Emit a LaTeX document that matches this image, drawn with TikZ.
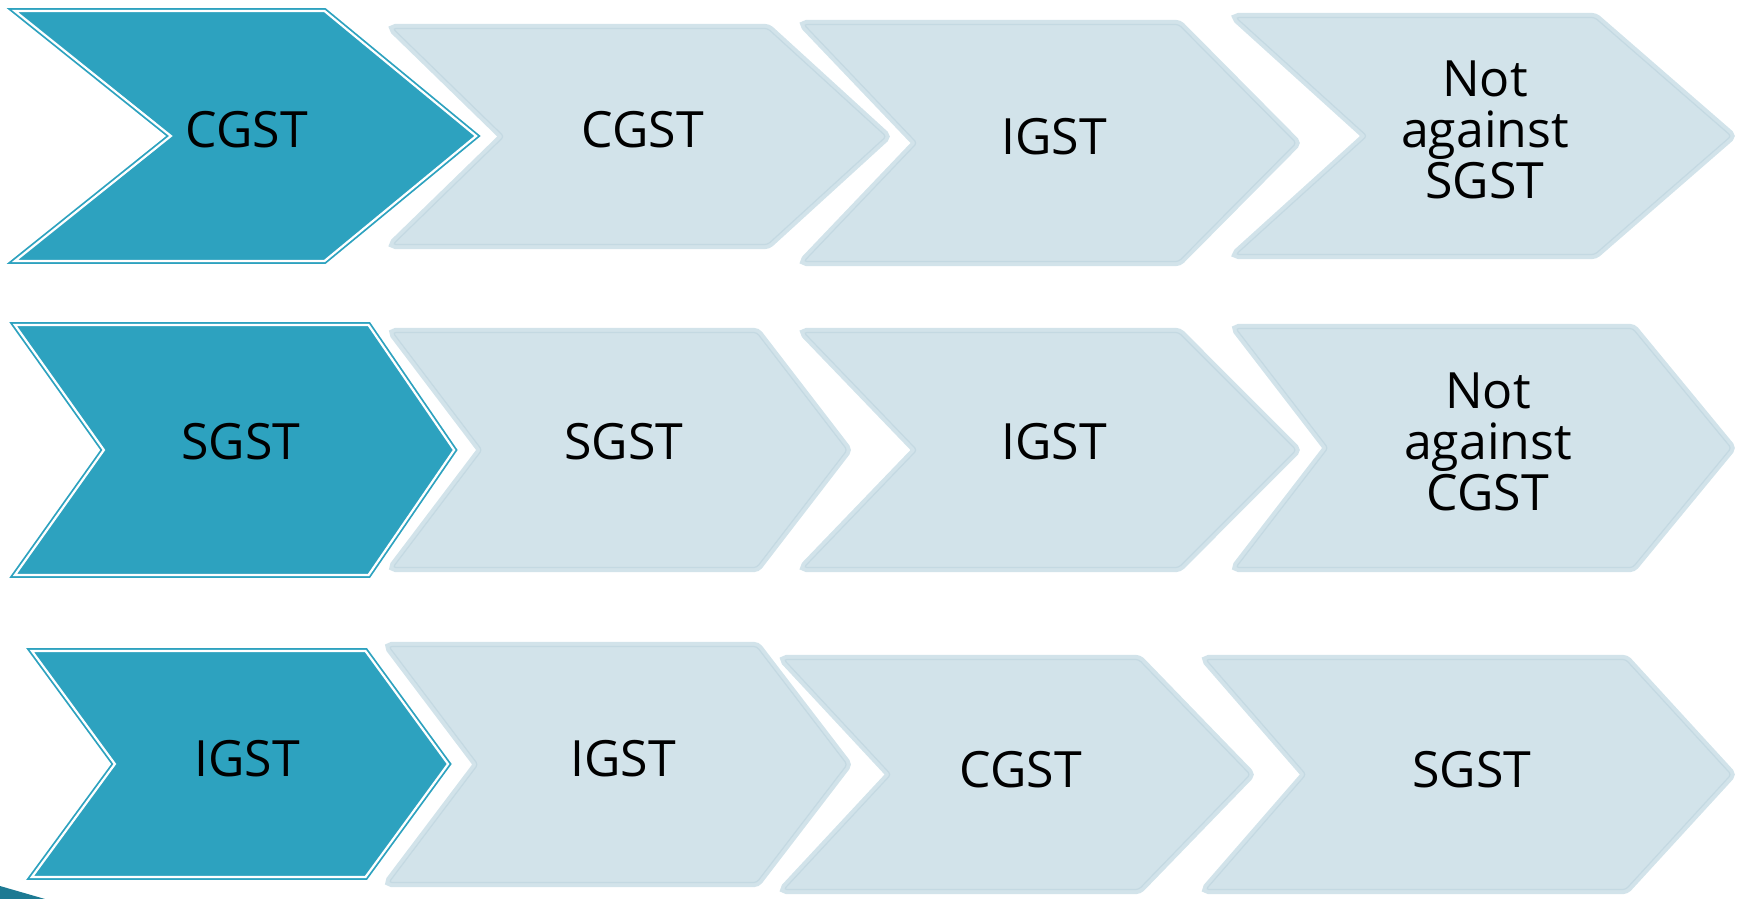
\documentclass[tikz,border=0pt]{standalone}
\usepackage{fontspec}
\setmainfont{Open Sans}

\definecolor{chevdark}{HTML}{2DA2BF}
\definecolor{chevlight}{HTML}{D2E3EA}
\definecolor{chevrule}{HTML}{C4D9E2}
\definecolor{cornerdark}{HTML}{1D7A93}

\tikzset{
  darkchev/.style={fill=chevdark, draw=chevdark, line width=1.8pt, double=white, double distance=2.2pt},
  lightchev/.style={fill=chevlight, draw=chevlight, line width=4pt, double=chevrule, double distance=1.2pt, rounded corners=3pt},
  lbl/.style={font=\fontsize{50}{51}\selectfont, align=center, text=black, inner sep=0pt}
}

% #1 style, #2 inset, #3 left, #4 notch, #5 top right, #6 tip, #7 top, #8 bottom
\newcommand{\chevron}[8]{%
  \path[#1] ({#3+1.3*#2},{#7+#2}) -- ({#5-0.5*#2},{#7+#2}) -- ({#6-1.3*#2},{(#7+#8)/2})
    -- ({#5-0.5*#2},{#8-#2}) -- ({#3+1.3*#2},{#8-#2}) -- ({#4+1.3*#2},{(#7+#8)/2}) -- cycle;}

\begin{document}
\begin{tikzpicture}[x=1pt,y=-1pt]
\useasboundingbox (0,0) rectangle (1742,899);

% row 1
\chevron{darkchev}{3}{11}{167}{326}{480}{8}{264}
\chevron{lightchev}{4.5}{387}{498}{770}{892}{24}{249}
\chevron{lightchev}{4.5}{798}{911}{1181}{1302}{20}{266}
\chevron{lightchev}{4.5}{1230}{1361}{1597}{1737}{13}{259}
\node [lbl] (r1c1) at (247,130) {CGST};
\node [lbl] (r1c2) at (643,130) {CGST};
\node [lbl] (r1c3) at (1054,137) {IGST};
\node [lbl] (r1c4) at (1485,130) {Not\\against\\SGST};

% row 2
\chevron{darkchev}{3}{11}{100}{370}{458}{322}{578}
\chevron{lightchev}{4.5}{387}{476}{759}{853}{328}{572}
\chevron{lightchev}{4.5}{798}{911}{1181}{1302}{328}{572}
\chevron{lightchev}{4.5}{1230}{1322}{1635}{1737}{324}{572}
\node [lbl] (r2c1) at (241,442) {SGST};
\node [lbl] (r2c2) at (624,442) {SGST};
\node [lbl] (r2c3) at (1054,442) {IGST};
\node [lbl] (r2c4) at (1488,442) {Not\\against\\CGST};

% row 3
\chevron{darkchev}{3}{28}{111}{367}{452}{648}{880}
\chevron{lightchev}{4.5}{383}{472}{759}{853}{642}{887}
\chevron{lightchev}{4.5}{778}{885}{1141}{1256}{655}{894}
\chevron{lightchev}{4.5}{1200}{1300}{1628}{1737}{655}{894}
\node [lbl] (r3c1) at (247,759) {IGST};
\node [lbl] (r3c2) at (623,759) {IGST};
\node [lbl] (r3c3) at (1021,770) {CGST};
\node [lbl] (r3c4) at (1472,770) {SGST};

% corner of the slide
\fill [cornerdark] (0,886) -- (45,899) -- (0,899) -- cycle;

\end{tikzpicture}
\end{document}
